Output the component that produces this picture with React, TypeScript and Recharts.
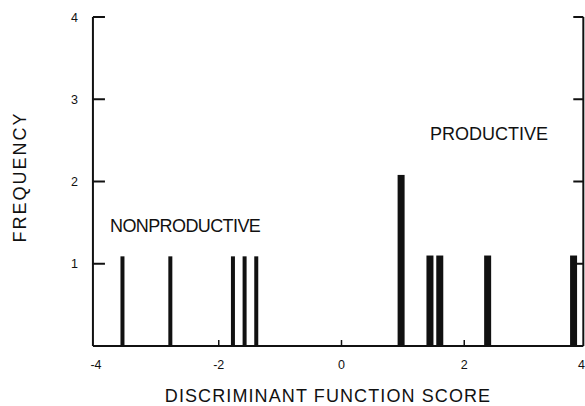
import { Bar, ComposedChart, ReferenceLine, XAxis, YAxis } from "recharts";

const nonproductiveScores = [-3.57, -2.79, -1.77, -1.58, -1.39];
const nonproductiveFrequency = [1.09, 1.09, 1.09, 1.09, 1.09];
const productiveScores = [0.97, 1.44, 1.6, 2.38, 3.78];
const productiveFrequency = [2.08, 1.1, 1.1, 1.1, 1.1];
const scoreTicks = [-4, -2, 0, 2, 4];
const frequencyTicks = [1, 2, 3, 4];

const data = [
  ...nonproductiveScores.map((score, i) => ({
    score,
    frequency: nonproductiveFrequency[i],
    group: "nonproductive",
  })),
  ...productiveScores.map((score, i) => ({
    score,
    frequency: productiveFrequency[i],
    group: "productive",
  })),
];

const FONT = '"Liberation Sans", Arial, sans-serif';
const INK = "#111";
// frame sits a little outside the -4..4 scale, like the printed figure
const FRAME_LEFT = -4.05;
const FRAME_RIGHT = 3.94;
const PX_X = 61.25; // px per score unit
const PX_Y = 82.25; // px per frequency unit

// thin bars for one group, heavier strokes for the other
function Stick(props: any) {
  const { x, y, width, height, payload } = props;
  if (!Number.isFinite(height) || height <= 0) return <g />;
  const w = payload.group === "productive" ? 7 : 4;
  return <rect x={x + width / 2 - w / 2} y={y} width={w} height={height} fill={INK} />;
}

function LeftTick({ x, y, payload }: any) {
  return (
    <text
      x={Number(x) - 18}
      y={Number(y) + 4.5}
      textAnchor="end"
      fontSize={12.5}
      fill={INK}
      fontFamily={FONT}
    >
      {payload.value}
    </text>
  );
}

function BottomTick({ x, y, payload }: any) {
  // last label hugs the right edge so it is not clipped
  const last = payload.value === 4;
  return (
    <text
      x={last ? 585 : Number(x)}
      y={Number(y) + 23}
      textAnchor={last ? "end" : "middle"}
      fontSize={12.5}
      fill={INK}
      fontFamily={FONT}
    >
      {payload.value}
    </text>
  );
}

const line = { stroke: INK, strokeWidth: 2, ifOverflow: "visible" as const, yAxisId: "left" };

export default function App() {
  return (
    <div
      style={{
        position: "absolute",
        left: 0,
        top: 0,
        width: 585,
        height: 406,
        overflow: "hidden",
        background: "#fff",
      }}
    >
      <ComposedChart
        width={592}
        height={406}
        data={data}
        margin={{ top: 17, right: 5, bottom: 59, left: 95 }}
      >
        <XAxis
          dataKey="score"
          type="number"
          domain={[-4, 4]}
          ticks={scoreTicks}
          axisLine={false}
          tickLine={false}
          tickSize={0}
          tickMargin={0}
          height={1}
          tick={(p: any) => <BottomTick {...p} />}
          interval={0}
        />
        <YAxis
          yAxisId="left"
          domain={[0, 4]}
          ticks={frequencyTicks}
          axisLine={false}
          tickLine={false}
          tickSize={0}
          tickMargin={0}
          width={1}
          tick={(p: any) => <LeftTick {...p} />}
          interval={0}
        />
        <ReferenceLine {...line} segment={[{ x: FRAME_LEFT, y: 0 }, { x: FRAME_LEFT, y: 4 }]} />
        <ReferenceLine {...line} segment={[{ x: FRAME_RIGHT, y: 0 }, { x: FRAME_RIGHT, y: 4 }]} />
        <ReferenceLine {...line} segment={[{ x: FRAME_LEFT, y: 0 }, { x: FRAME_RIGHT, y: 0 }]} />
        {frequencyTicks.map((t) => (
          <ReferenceLine
            key={`l${t}`}
            {...line}
            segment={[{ x: FRAME_LEFT, y: t }, { x: FRAME_LEFT + 12 / PX_X, y: t }]}
          />
        ))}
        {frequencyTicks.map((t) => (
          <ReferenceLine
            key={`r${t}`}
            {...line}
            segment={[{ x: FRAME_RIGHT, y: t }, { x: FRAME_RIGHT - 10 / PX_X, y: t }]}
          />
        ))}
        {scoreTicks
          .filter((t) => t > -4 && t < 4)
          .map((t) => (
            <ReferenceLine
              key={`b${t}`}
              {...line}
              strokeWidth={1.5}
              segment={[{ x: t, y: 0 }, { x: t, y: 6 / PX_Y }]}
            />
          ))}
        <Bar yAxisId="left" dataKey="frequency" shape={<Stick />} isAnimationActive={false} />
      </ComposedChart>
      <svg
        width={585}
        height={406}
        style={{ position: "absolute", left: 0, top: 0, pointerEvents: "none" }}
        fontFamily={FONT}
        fill={INK}
      >
        <text x={110} y={231.5} fontSize={18} letterSpacing={-0.6}>
          NONPRODUCTIVE
        </text>
        <text x={430} y={140} fontSize={18}>
          PRODUCTIVE
        </text>
        <text
          x={25.5}
          y={177}
          fontSize={18}
          letterSpacing={2}
          textAnchor="middle"
          transform="rotate(-90, 25.5, 177)"
        >
          FREQUENCY
        </text>
        <text x={328} y={402} fontSize={18} letterSpacing={1.1} textAnchor="middle">
          DISCRIMINANT FUNCTION SCORE
        </text>
      </svg>
    </div>
  );
}
